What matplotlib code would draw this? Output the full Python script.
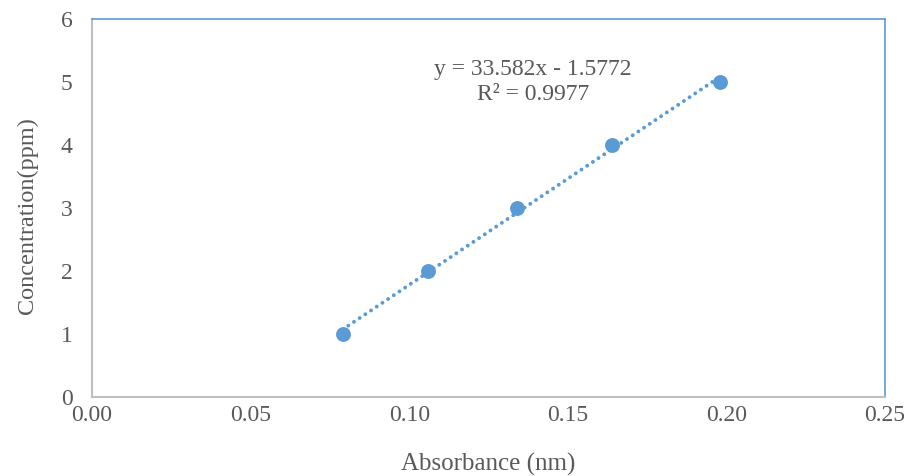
import numpy as np
import matplotlib
matplotlib.use("Agg")
import matplotlib.pyplot as plt

# calibration standards
absorbance = [0.079, 0.106, 0.134, 0.164, 0.198]
concentration = [1, 2, 3, 4, 5]
x_ticks = [0.00, 0.05, 0.10, 0.15, 0.20, 0.25]
y_ticks = [0, 1, 2, 3, 4, 5, 6]
equation_text = "y = 33.582x - 1.5772\nR² = 0.9977"

BLUE = "#5B9BD5"
TEXT = "#595959"
AXIS_GRAY = "#BFBFBF"

plt.rcParams["font.family"] = ["Liberation Serif", "DejaVu Serif"]

fig = plt.figure(figsize=(9.09, 4.76), dpi=100)
ax = fig.add_axes((0.1012, 0.166, 0.8724, 0.794))

# linear trendline spanning the measured range
slope, intercept = np.polyfit(absorbance, concentration, 1)
xs = np.array([min(absorbance), max(absorbance)])
ax.plot(xs, slope * xs + intercept, linestyle=(0, (0.01, 1.75)), color=BLUE,
        linewidth=2.8, dash_capstyle="round", zorder=2)
ax.scatter(absorbance, concentration, s=115, color=BLUE, zorder=3,
           linewidths=0)

ax.text(0.139, 5.0, equation_text, ha="center", va="center",
        fontsize=17, color=TEXT, linespacing=1.3)

ax.set_xlim(0, 0.25)
ax.set_ylim(0, 6)
ax.set_xticks(x_ticks)
ax.set_xticklabels([f"{v:.2f}" for v in x_ticks])
ax.set_yticks(y_ticks)
ax.tick_params(length=0, labelsize=17, labelcolor=TEXT)
ax.tick_params(axis="x", pad=6)
ax.tick_params(axis="y", pad=14)

ax.set_xlabel("Absorbance (nm)", fontsize=18, color=TEXT, labelpad=19)
ax.set_ylabel("Concentration(ppm)", fontsize=17.5, color=TEXT)
ax.yaxis.set_label_coords(-0.068, 0.48)

for side in ("left", "bottom"):
    ax.spines[side].set_color(AXIS_GRAY)
    ax.spines[side].set_linewidth(1.5)
for side in ("top", "right"):
    ax.spines[side].set_color(BLUE)
    ax.spines[side].set_linewidth(1.2)

fig.savefig("out.png", dpi=100)
